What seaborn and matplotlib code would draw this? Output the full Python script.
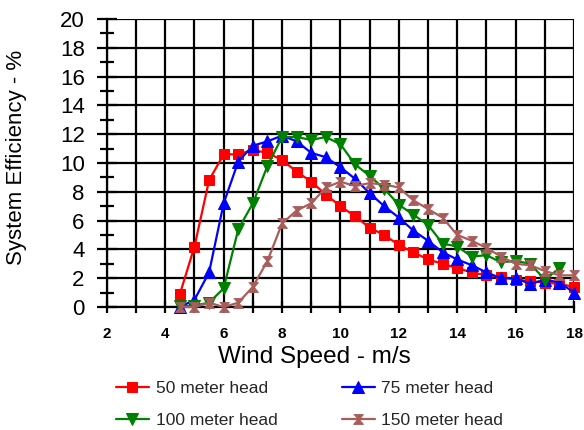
import numpy as np
import pandas as pd
import matplotlib
matplotlib.use("Agg")
import matplotlib.pyplot as plt
import seaborn as sns
from matplotlib.ticker import MultipleLocator

# ---- data ----
wind_speed = [4.5, 5, 5.5, 6, 6.5, 7, 7.5, 8, 8.5, 9, 9.5, 10, 10.5, 11, 11.5,
              12, 12.5, 13, 13.5, 14, 14.5, 15, 15.5, 16, 16.5, 17, 17.5, 18]
head_50 = [0.9, 4.2, 8.8, 10.6, 10.6, 10.9, 10.7, 10.2, 9.4, 8.7, 7.8, 7.0, 6.3, 5.5,
           5.0, 4.3, 3.8, 3.3, 3.0, 2.7, 2.4, 2.2, 2.1, 1.9, 1.8, 1.7, 1.6, 1.4]
head_75 = [0.0, 0.5, 2.4, 7.2, 10.1, 11.2, 11.5, 11.9, 11.5, 10.7, 10.4, 9.7, 8.9, 7.9,
           7.0, 6.2, 5.3, 4.6, 3.8, 3.3, 2.9, 2.4, 2.0, 2.0, 1.6, 1.9, 1.7, 1.0]
head_100 = [0.05, 0.1, 0.3, 1.3, 5.4, 7.2, 9.8, 11.8, 11.8, 11.6, 11.8, 11.3, 9.9, 9.1,
            8.2, 7.1, 6.4, 5.7, 4.4, 4.2, 3.5, 3.6, 3.1, 3.2, 3.0, 1.9, 2.7]
head_150 = [0.0, 0.0, 0.3, 0.0, 0.3, 1.4, 3.2, 5.8, 6.7, 7.2, 8.3, 8.7, 8.4, 8.6, 8.5,
            8.3, 7.4, 6.8, 6.2, 5.0, 4.6, 4.1, 3.5, 3.0, 2.9, 2.5, 2.2, 2.2]
series_labels = ["50 meter head", "75 meter head", "100 meter head", "150 meter head"]
x_label = "Wind Speed - m/s"
y_label = "System Efficiency - %"

sns.set_theme(style="white")
plt.rcParams['font.family'] = ['Liberation Sans', 'DejaVu Sans']

fig = plt.figure(figsize=(5.84, 4.30), dpi=100)
ax = fig.add_axes([0.183, 0.286, 0.800, 0.670])

hourglass = [(-1, 1), (1, 1), (0.15, 0), (1, -1), (-1, -1), (-0.15, 0)]
styles = [
    (head_50, "#FF0000", "s", 7),
    (head_75, "#0000FF", "^", 9),
    (head_100, "#008000", "v", 9),
    (head_150, "#A85D5A", hourglass, 7),
]
handles = []
for (vals, color, marker, ms), label in zip(styles, series_labels):
    xs = wind_speed[:len(vals)]
    sns.lineplot(x=xs, y=vals, ax=ax, color=color, marker=marker, markersize=ms,
                 markeredgecolor=color, markerfacecolor=color, linewidth=1.6,
                 label=label, clip_on=False, zorder=3, legend=False)
    handles.append(ax.lines[-1])

ax.set_xlim(2, 18)
ax.set_ylim(0, 20)
ax.xaxis.set_major_locator(MultipleLocator(2))
ax.xaxis.set_minor_locator(MultipleLocator(1))
ax.yaxis.set_major_locator(MultipleLocator(2))
ax.yaxis.set_minor_locator(MultipleLocator(1))

ax.grid(True, which="both", axis="x", color="black", linewidth=1.6)
ax.grid(True, which="major", axis="y", color="black", linewidth=1.6)
ax.set_axisbelow(True)
for s in ["top", "right"]:
    ax.spines[s].set_visible(False)
for s in ["left", "bottom"]:
    ax.spines[s].set_color("black")
    ax.spines[s].set_linewidth(1.6)

ax.tick_params(axis="x", which="both", direction="inout", length=9, width=1.6,
               colors="black", bottom=True, labelsize=11, pad=10)
ax.tick_params(axis="y", which="major", direction="inout", length=14, width=1.6,
               colors="black", left=True, labelsize=16, pad=9)
ax.tick_params(axis="y", which="minor", direction="inout", length=10, width=1.6,
               colors="black", left=True)
for t in ax.get_xticklabels():
    t.set_fontweight("bold")

ax.set_xlabel(x_label, fontsize=17.5, color="black")
ax.set_ylabel(y_label, fontsize=16, color="black")
ax.xaxis.set_label_coords(0.445, -0.135)
ax.yaxis.set_label_coords(-0.17, 0.52)

order = [0, 2, 1, 3]
leg = fig.legend([handles[i] for i in order], [series_labels[i] for i in order],
                 ncol=2, loc="upper left", bbox_to_anchor=(0.198, 0.115),
                 frameon=False, fontsize=12.5, handlelength=1.9, handletextpad=0.4,
                 columnspacing=3.7, labelspacing=1.0, borderpad=0, borderaxespad=0)

fig.savefig("out.png", dpi=100)
